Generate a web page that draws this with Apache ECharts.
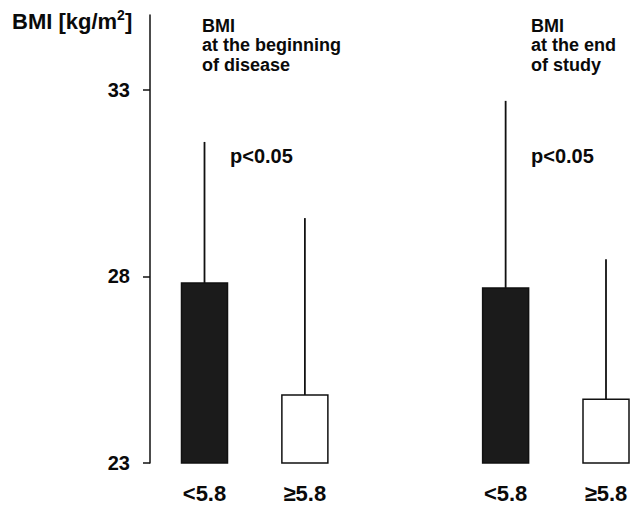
<!DOCTYPE html>
<html>
<head>
<meta charset="utf-8">
<script src="https://cdn.jsdelivr.net/npm/echarts@6/dist/echarts.min.js"></script>
<style>
html,body{margin:0;padding:0;background:#fff;}
#chart{width:633px;height:506px;}
</style>
</head>
<body>
<div id="chart"></div>
<script>
// ---- data ----
var groupLabels = ['<5.8', '\u22655.8', '<5.8', '\u22655.8'];
var xPositions = [1, 2, 4, 5];           // slot of each bar (gap between the two panels)
var meanValues = [27.82, 24.82, 27.69, 24.71];
var upperValues = [31.6, 29.56, 32.7, 28.46]; // top of the error whisker
var filled = [1, 0, 1, 0];
var yTicks = [23, 28, 33];
var yMin = 23, yMax = 35;
var panelTitles = ['BMI\nat the beginning\nof disease', 'BMI\nat the end\nof study'];
var pTexts = ['p<0.05', 'p<0.05'];

var FONT = '"Liberation Sans", Arial, sans-serif';

var seriesData = xPositions.map(function (x, i) {
  return [x, meanValues[i], upperValues[i], filled[i]];
});

var chart = echarts.init(document.getElementById('chart'), null, {renderer: 'svg'});

chart.setOption({
  animation: false,
  backgroundColor: '#fff',
  grid: {left: 150, right: 27, top: 15, bottom: 43, containLabel: false},
  xAxis: {
    type: 'value',
    min: 0.457,
    max: 5,
    axisLine: {show: false},
    axisTick: {show: false},
    splitLine: {show: false},
    axisLabel: {
      customValues: xPositions,
      margin: 19,
      fontFamily: FONT,
      fontWeight: 'bold',
      fontSize: 22,
      color: '#0a0a0a',
      formatter: function (v) {
        var idx = xPositions.indexOf(v);
        return idx >= 0 ? groupLabels[idx] : '';
      }
    }
  },
  yAxis: {
    type: 'value',
    min: yMin,
    max: yMax,
    axisLine: {show: true, lineStyle: {color: '#111', width: 1.5}},
    axisTick: {show: true, customValues: yTicks, length: 7, lineStyle: {color: '#111', width: 1.5}},
    splitLine: {show: false},
    axisLabel: {
      customValues: yTicks,
      margin: 20,
      fontFamily: FONT,
      fontWeight: 'bold',
      fontSize: 20,
      color: '#0a0a0a'
    }
  },
  series: [{
    type: 'custom',
    data: seriesData,
    renderItem: function (params, api) {
      var x = api.value(0), m = api.value(1), u = api.value(2), f = api.value(3);
      var p0 = api.coord([x, yMin]);
      var p1 = api.coord([x, m]);
      var p2 = api.coord([x, u]);
      var w = 46;
      return {
        type: 'group',
        children: [
          {
            type: 'line',
            shape: {x1: p1[0], y1: p1[1], x2: p2[0], y2: p2[1]},
            style: {stroke: '#111', lineWidth: 1.8}
          },
          {
            type: 'rect',
            shape: {x: p0[0] - w / 2, y: p1[1], width: w, height: p0[1] - p1[1]},
            style: {fill: f ? '#1b1b1b' : '#fff', stroke: '#111', lineWidth: 1.5}
          }
        ]
      };
    }
  }],
  graphic: [
    {
      type: 'text', left: 12, top: 8,
      style: {
        text: '{a|BMI [kg/m}{s|2}{a|]}',
        rich: {
          a: {fontFamily: FONT, fontWeight: 'bold', fontSize: 22, lineHeight: 26, fill: '#0a0a0a'},
          s: {fontFamily: FONT, fontWeight: 'bold', fontSize: 14, lineHeight: 18, verticalAlign: 'top', fill: '#0a0a0a'}
        }
      }
    },
    {
      type: 'text', left: 202, top: 16,
      style: {text: panelTitles[0], font: 'bold 18px ' + FONT, lineHeight: 19.5, fill: '#0a0a0a'}
    },
    {
      type: 'text', left: 531, top: 16,
      style: {text: panelTitles[1], font: 'bold 18px ' + FONT, lineHeight: 19.5, fill: '#0a0a0a'}
    },
    {
      type: 'text', left: 230, top: 146,
      style: {text: pTexts[0], font: 'bold 20px ' + FONT, fill: '#0a0a0a'}
    },
    {
      type: 'text', left: 531, top: 146,
      style: {text: pTexts[1], font: 'bold 20px ' + FONT, fill: '#0a0a0a'}
    }
  ]
});
</script>
</body>
</html>
